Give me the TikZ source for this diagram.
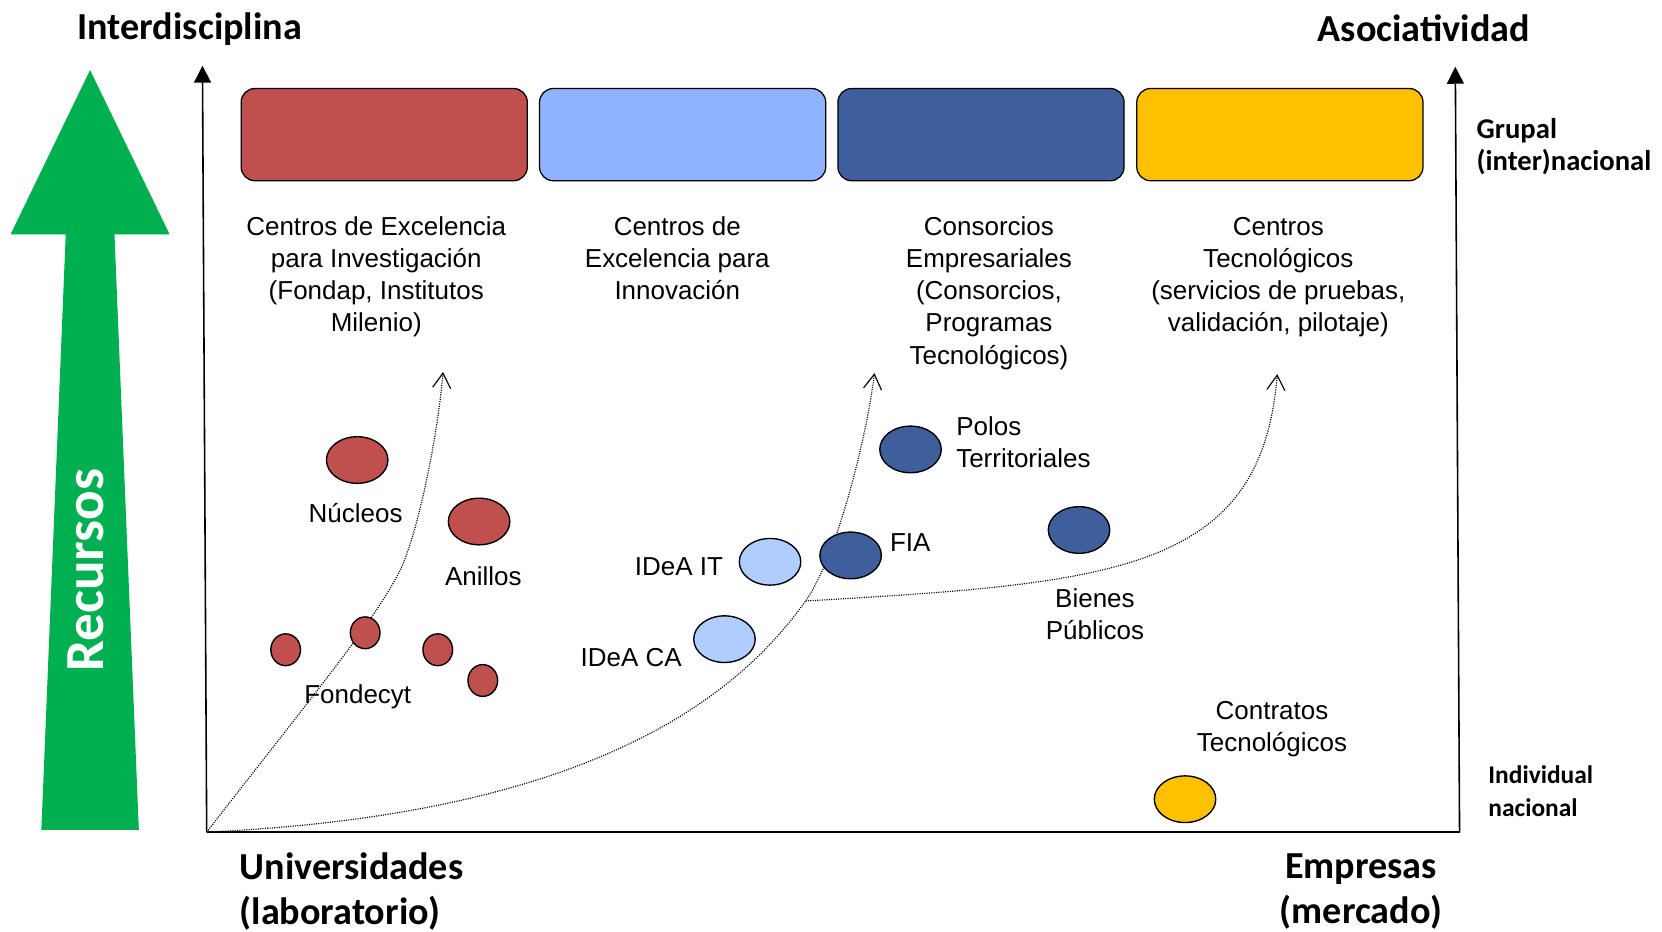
\documentclass[tikz,border=0pt]{standalone}
\usepackage{fontspec}
\setmainfont{Liberation Sans}
\newfontfamily\calibri{Carlito}
\usetikzlibrary{shapes}
\usetikzlibrary{arrows.meta}
\definecolor{redbox}{HTML}{C0504D}
\definecolor{skybox}{HTML}{8EB4FF}
\definecolor{skyblob}{HTML}{AFCDFF}
\definecolor{navybox}{HTML}{3F5F9C}
\definecolor{goldbox}{HTML}{FFC000}
\definecolor{arrowgreen}{HTML}{00B050}
\tikzset{box/.style={rectangle,rounded corners=13pt,draw=black,line width=1.2pt,
minimum width=270pt,minimum height=87pt},
blob/.style={ellipse,draw=black,line width=1.3pt,inner sep=0pt,
minimum width=58pt,minimum height=44pt},
redblob/.style={blob,fill=redbox},
skyblobs/.style={blob,fill=skyblob},
navyblob/.style={blob,fill=navybox},
goldblob/.style={blob,fill=goldbox},
seed/.style={redblob,minimum width=28pt,minimum height=30pt},
lbl/.style={inner sep=0pt,align=center,font=\fontsize{24.5}{30.25}\selectfont},
heading/.style={inner sep=0pt,align=left,font=\calibri\bfseries\fontsize{36}{42}\selectfont},
side/.style={inner sep=0pt,align=left,font=\calibri\bfseries\fontsize{27}{30}\selectfont},
axisline/.style={line width=1.5pt,-{Triangle[length=16pt,width=16pt]}},
trend/.style={line width=1.1pt,dash pattern=on 1pt off 1.2pt,
-{Straight Barb[length=14pt,width=17pt]}}}

\begin{document}
\begin{tikzpicture}[x=1pt,y=-1pt]
  \path [fill=white,use as bounding box] (0,0) rectangle (1568,879);
  \fill [arrowgreen] (85,66) -- (160,221) -- (108,221) -- (131,783) -- (39,783)
    -- (62,221) -- (10,221) -- cycle;
  \node (rec) [inner sep=0pt,white,rotate=90,font=\calibri\bfseries\fontsize{52}{60}\selectfont]
    at (81,538) {Recursos};

  \coordinate (o) at (195,785);
  \coordinate (ytop) at (191,62);
  \coordinate (corner) at (1377,785);
  \coordinate (ztop) at (1373,63);
  \draw [axisline] (o) -- (ytop);
  \draw [line width=1.5pt] (o) -- (corner);
  \draw [axisline] (corner) -- (ztop);

  \node (inter) [heading,anchor=base west] at (73,37) {Interdisciplina};
  \node (asoc) [heading,anchor=base west] at (1243,39) {Asociatividad};
  \node (univ) [heading,anchor=north west] at (226,804.5) {Universidades\\(laboratorio)};
  \node (empr) [heading,align=center,anchor=north] at (1284,805.5) {Empresas\\(mercado)};
  \node (grupal) [side,anchor=north west] at (1393,111.5) {Grupal\\(inter)nacional};
  \node (indiv) [side,anchor=north west,font=\calibri\bfseries\fontsize{24}{31}\selectfont]
    at (1404,722) {Individual\\nacional};

  \node (inv) [box,fill=redbox] at (362.5,127) {};
  \node (inn) [box,fill=skybox] at (644,127) {};
  \node (cons) [box,fill=navybox] at (925.5,127) {};
  \node (tec) [box,fill=goldbox] at (1207.5,127) {};
  \node (invtxt) [lbl,anchor=north] at (355,204.5)
    {Centros de Excelencia\\para Investigación\\(Fondap, Institutos\\Milenio)};
  \node (inntxt) [lbl,anchor=north] at (639,204.5) {Centros de\\Excelencia para\\Innovación};
  \node (constxt) [lbl,anchor=north] at (933,204.5)
    {Consorcios\\Empresariales\\(Consorcios,\\Programas\\Tecnológicos)};
  \node (tectxt) [lbl,anchor=north] at (1206,204.5)
    {Centros\\Tecnológicos\\(servicios de pruebas,\\validación, pilotaje)};

  \coordinate (upinv) at (418,351);
  \coordinate (bend) at (376,541);
  \coordinate (split) at (760,567);
  \coordinate (upcons) at (825,352);
  \coordinate (uptec) at (1205,353);
  \draw [trend] (o) .. controls (300,650) and (350,590) .. (bend)
    .. controls (392,511) and (412,420) .. (upinv);
  \draw [trend] (o) .. controls (520,770) and (680,680) .. (split)
    .. controls (790,525) and (818,410) .. (upcons);
  \draw [trend] (split) .. controls (1050,550) and (1190,540) .. (uptec);

  \node (nuc) [redblob] at (337,434) {};
  \node (ani) [redblob] at (452,492) {};
  \node (f1) [seed] at (269.5,613) {};
  \node (f2) [seed] at (344.5,597) {};
  \node (f3) [seed] at (413,613) {};
  \node (f4) [seed] at (455.5,642) {};
  \node (it) [skyblobs] at (726.5,530) {};
  \node (ca) [skyblobs] at (683.5,603) {};
  \node (fia) [navyblob] at (802.5,524) {};
  \node (pol) [navyblob] at (859,424) {};
  \node (bie) [navyblob] at (1018,500) {};
  \node (con) [goldblob] at (1118,754) {};

  \node (nuctxt) [lbl,anchor=base] at (335.5,493) {Núcleos};
  \node (anitxt) [lbl,anchor=base] at (456,552) {Anillos};
  \node (fontxt) [lbl,anchor=base] at (337.5,664) {Fondecyt};
  \node (ittxt) [lbl,anchor=base] at (640.5,543) {IDeA IT};
  \node (catxt) [lbl,anchor=base] at (595.5,629) {IDeA CA};
  \node (fiatxt) [lbl,anchor=base west] at (839.5,520.5) {FIA};
  \node (poltxt) [lbl,align=left,anchor=north west] at (902,393) {Polos\\Territoriales};
  \node (bietxt) [lbl,anchor=north] at (1033,555) {Bienes\\Públicos};
  \node (contxt) [lbl,anchor=north] at (1200,661.5) {Contratos\\Tecnológicos};
\end{tikzpicture}
\end{document}
